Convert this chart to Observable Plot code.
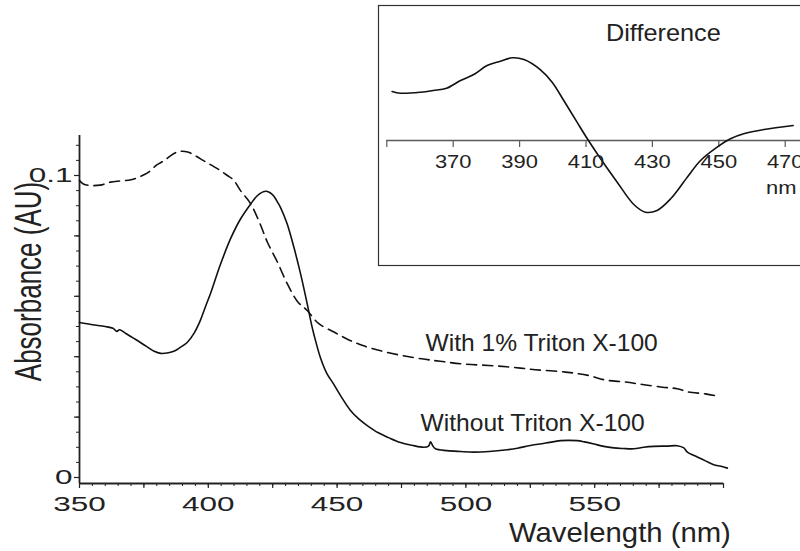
<!DOCTYPE html>
<html>
<head>
<meta charset="utf-8">
<script src="https://cdn.jsdelivr.net/npm/d3@7"></script>
<script src="https://cdn.jsdelivr.net/npm/@observablehq/plot@0.6"></script>
<style>
  html, body { margin: 0; padding: 0; background: #fff; }
  #chart { position: relative; width: 800px; height: 551px; overflow: hidden; background: #fff; }
  #main { position: absolute; left: 0; top: 0; }
  #inset { position: absolute; left: 377px; top: 4px; width: 440px; height: 262px; }
  svg { max-width: none !important; }
</style>
</head>
<body>
<div id="chart"><div id="main"></div><div id="inset"></div></div>
<script>
// ---------- data ----------
const withoutNm = [350,355,360,363,364.5,365.5,368,372,376,379,381.5,384,386.6,389,391.8,394.5,397,399,400.9,404.7,408.6,412.5,416.4,419,421,422.5,424,425.4,427,428.1,430.6,433.2,435.8,438.4,440.3,441.6,443.6,446,448.6,452,455.2,458.5,461.7,466,470,474.6,479,483.7,485.5,486.3,487.2,488.2,492.7,498,503,509,516,520,525,531,536.7,540,543.2,546,549.7,553,557.4,561,565.2,569,573,578,582,584.6,586,589.8,593,596.2,599,601.5];
const withoutAbs = [0.0513,0.0506,0.0500,0.0494,0.0484,0.0489,0.0477,0.0456,0.0434,0.0418,0.0411,0.0412,0.0418,0.0430,0.0447,0.0478,0.0522,0.0568,0.0610,0.0705,0.0790,0.0856,0.0905,0.0933,0.0945,0.0948,0.0943,0.0932,0.0910,0.0893,0.0840,0.0763,0.0675,0.0575,0.0498,0.0454,0.0395,0.0345,0.0310,0.0262,0.0222,0.0193,0.0172,0.0148,0.0132,0.0116,0.0107,0.0100,0.0104,0.0118,0.0104,0.0095,0.0089,0.0086,0.0084,0.0086,0.0092,0.0097,0.0106,0.0114,0.0122,0.0123,0.0122,0.0118,0.0111,0.0104,0.0098,0.0096,0.0095,0.0100,0.0103,0.0104,0.0105,0.0098,0.0084,0.0068,0.0055,0.0042,0.0037,0.0031];

const withNm = [350,351.5,354,358,362,366,370,374,377,380,383,386.5,389,392,395,398,401,404,407.4,409.8,412.5,416.4,419.9,423,426.9,430.4,434.6,438.4,442.8,449.8,454,460,469.5,482.8,490,498.7,508.8,518,527,538.7,547.6,554,562,568.5,576.3,582,586.4,593,598];
const withAbs = [0.0983,0.0972,0.0967,0.0968,0.0978,0.0982,0.0986,0.0998,0.1012,0.1035,0.1050,0.1072,0.1080,0.1078,0.1065,0.1050,0.1035,0.1020,0.1000,0.0985,0.0950,0.0907,0.0844,0.0778,0.0712,0.0646,0.0583,0.0553,0.0510,0.0477,0.0458,0.0437,0.0414,0.0393,0.0385,0.0376,0.0371,0.0365,0.0357,0.0349,0.0338,0.0323,0.0316,0.0308,0.0299,0.0294,0.0283,0.0277,0.0269];

const diffNm = [351.6,354.1,360.2,364,368,372.2,376.2,380.2,384.2,387.8,391.3,396.3,399.8,403.3,407.3,410.4,414.4,419.4,424.4,427.9,431.4,435.5,440.5,444.5,449.5,453.5,457.5,463.6,472.4];
const diffVal = [0.0490,0.0473,0.0483,0.0500,0.0523,0.0600,0.0660,0.0750,0.0793,0.0827,0.0810,0.0707,0.0583,0.0400,0.0183,0.0017,-0.0183,-0.0417,-0.0640,-0.0717,-0.0700,-0.0583,-0.0367,-0.0200,-0.0067,0.0017,0.0067,0.0110,0.0150];

const xTickLabels = [350, 400, 450, 500, 550];
const yTickLabels = [0, 0.1];
const yTickText = ["0", "0.1"];
const insetTickLabels = [370, 390, 410, 430, 450, 470];
const seriesLabels = ["With 1% Triton X-100", "Without Triton X-100"];
const seriesLabelNm = [484.3, 482.4];
const seriesLabelAbs = [0.0444, 0.0179];
const xTitle = "Wavelength (nm)";
const yTitle = "Absorbance (AU)";
const insetTitle = "Difference";
const insetUnit = "nm";

// ---------- main chart ----------
const FONT = "Liberation Sans, Arial, Helvetica, sans-serif";
const INK = "#222";
const xDom = [350, 600], xRng = [79, 723];
const yDom = [0, 0.1], yRng = [477, 175];
const kY = (yDom[1] - yDom[0]) / (yRng[0] - yRng[1]); // units per px
const yBase = yDom[0] - 6 * kY;   // x-axis line sits slightly below zero
const yTop = yDom[1] + 40 * kY;   // top of y axis line

const without = withoutNm.map((x, i) => ({x, y: withoutAbs[i]}));
const withT = withNm.map((x, i) => ({x, y: withAbs[i]}));
const seriesLab = seriesLabels.map((t, i) => ({t, x: seriesLabelNm[i], y: seriesLabelAbs[i]}));

const xMinor = d3.range(350, 601, 5);
const xMajor = d3.range(350, 601, 25);
const yMinor = d3.range(0, 0.1101, 0.005);
const yMajor = d3.range(0, 0.1101, 0.02);

const main = Plot.plot({
  width: 800, height: 551,
  marginLeft: 79, marginRight: 77, marginTop: 135, marginBottom: 68,
  style: {fontFamily: FONT, background: "transparent", overflow: "visible"},
  x: {domain: xDom, range: xRng, axis: null},
  y: {domain: yDom, range: yRng, axis: null},
  marks: [
    // ticks
    Plot.ruleX(xMinor, {x: d => d, y1: yBase, y2: yBase - 3 * kY, stroke: INK, strokeWidth: 1}),
    Plot.ruleX(xMajor, {x: d => d, y1: yBase, y2: yBase - 5 * kY, stroke: INK, strokeWidth: 1.2}),
    Plot.ruleY(yMinor, {y: d => d, x1: xDom[0], x2: xDom[0] - 3 * 250 / 644, stroke: INK, strokeWidth: 1}),
    Plot.ruleY(yMajor, {y: d => d, x1: xDom[0], x2: xDom[0] - 5 * 250 / 644, stroke: INK, strokeWidth: 1.2}),
    // axis lines
    Plot.ruleY([yBase], {x1: xDom[0], x2: xDom[1], stroke: INK, strokeWidth: 1.8}),
    Plot.ruleX([xDom[0]], {y1: yBase, y2: yTop, stroke: INK, strokeWidth: 1.8}),
    // curves
    Plot.line(withT, {x: "x", y: "y", stroke: "#111", strokeWidth: 1.6, strokeDasharray: "10,6", curve: "catmull-rom"}),
    Plot.line(without, {x: "x", y: "y", stroke: "#111", strokeWidth: 1.6, curve: "catmull-rom"}),
    // tick labels
    Plot.text(xTickLabels, {x: d => d, y: yBase, dy: 21, text: d => String(d), fontSize: 21, fill: INK, lineAnchor: "middle", textAnchor: "middle"}),
    Plot.text(yTickLabels, {x: xDom[0], y: d => d, dx: -7, text: (d, i) => yTickText[i], fontSize: 21, fill: INK, lineAnchor: "middle", textAnchor: "end"}),
    // titles
    Plot.text([xTitle], {x: 559.8, y: yBase, dy: 50, text: d => d, fontSize: 27, fill: INK, lineAnchor: "middle", textAnchor: "middle"}),
    Plot.text([yTitle], {x: 330.4, y: 0.0649, text: d => d, fontSize: 26, fill: INK, rotate: -90, lineAnchor: "middle", textAnchor: "middle"}),
    // series labels
    Plot.text(seriesLab, {x: "x", y: "y", text: "t", fontSize: 23, fill: INK, lineAnchor: "middle", textAnchor: "start"})
  ]
});
document.getElementById("main").appendChild(main);

// ---------- inset ----------
const ixDom = [350, 475], ixRng = [9.3, 9.3 + 125 * 3.32];
const iyDom = [0, 0.1], iyRng = [136, 36];
const kYi = 0.1 / 100;
const diff = diffNm.map((x, i) => ({x, y: diffVal[i]}));
const insetTicks = [350, ...insetTickLabels];
const GRAY = "#5a5a5a";

const inset = Plot.plot({
  width: 440, height: 262,
  marginLeft: 1, marginRight: 0, marginTop: 1, marginBottom: 1,
  style: {fontFamily: FONT, background: "#fff", overflow: "visible"},
  x: {domain: ixDom, range: ixRng, axis: null},
  y: {domain: iyDom, range: iyRng, axis: null},
  marks: [
    Plot.frame({stroke: "#333", strokeWidth: 1.2, fill: "#fff"}),
    Plot.ruleY([0], {x1: ixDom[0], x2: ixDom[1], stroke: GRAY, strokeWidth: 1.3}),
    Plot.ruleX(insetTicks, {x: d => d, y1: 0, y2: -7 * kYi, stroke: GRAY, strokeWidth: 1.2}),
    Plot.line(diff, {x: "x", y: "y", stroke: "#111", strokeWidth: 1.6, curve: "catmull-rom"}),
    Plot.text(insetTickLabels, {x: d => d, y: 0, dy: 22, text: d => String(d), fontSize: 18, fill: INK, lineAnchor: "middle", textAnchor: "middle"}),
    Plot.text([insetUnit], {x: insetTickLabels[insetTickLabels.length - 1], y: 0, dx: -4, dy: 48, text: d => d, fontSize: 18, fill: INK, lineAnchor: "middle", textAnchor: "middle"}),
    Plot.text([insetTitle], {x: 433.3, y: 0.107, text: d => d, fontSize: 23, fill: INK, lineAnchor: "middle", textAnchor: "middle"})
  ]
});
document.getElementById("inset").appendChild(inset);

// ---------- horizontal stretch of lettering, as in the reference ----------
function stretch(svg, fn) {
  svg.querySelectorAll("text").forEach(t => {
    const s = fn(t.textContent.trim());
    if (!s || s === 1) return;
    const tr = t.getAttribute("transform");
    if (tr && /translate\(/.test(tr)) {
      t.setAttribute("transform", tr.replace(/(translate\([^)]*\))/, `$1 scale(${s},1)`));
    } else {
      const x = +t.getAttribute("x") || 0, y = +t.getAttribute("y") || 0;
      t.setAttribute("transform", `translate(${x},${y}) scale(${s},1) translate(${-x},${-y})` + (tr ? " " + tr : ""));
    }
  });
}
const digitSet = new Set([...xTickLabels.map(String), ...yTickText]);
stretch(main, s => digitSet.has(s) ? 1.5 : s === yTitle ? 1.4 : s === xTitle ? 1.085 : seriesLabels.includes(s) ? 1.07 : 1);
stretch(inset, s => s === insetTitle ? 1.1 : 1.22);
</script>
</body>
</html>
